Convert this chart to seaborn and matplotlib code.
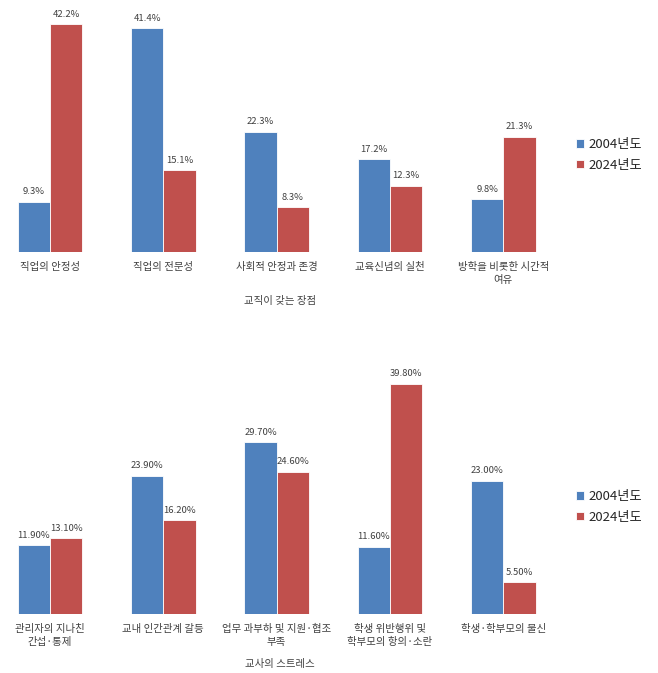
import pandas as pd
import matplotlib
matplotlib.use('Agg')
import matplotlib.pyplot as plt
import seaborn as sns

sns.set_style('white')
plt.rcParams['font.family'] = ['Noto Sans CJK KR', 'DejaVu Sans']

# data for the two charts
years = ['2004년도', '2024년도']

merit_cats = ['직업의 안정성', '직업의 전문성', '사회적 안정과 존경', '교육신념의 실천',
              '방학을 비롯한 시간적\n여유']
merit_2004 = [9.3, 41.4, 22.3, 17.2, 9.8]
merit_2024 = [42.2, 15.1, 8.3, 12.3, 21.3]

stress_cats = ['관리자의 지나친\n간섭·통제', '교내 인간관계 갈등', '업무 과부하 및 지원·협조\n부족',
               '학생 위반행위 및\n학부모의 항의·소란', '학생·학부모의 불신']
stress_2004 = [11.9, 23.9, 29.7, 11.6, 23.0]
stress_2024 = [13.1, 16.2, 24.6, 39.8, 5.5]

palette = ['#4F81BD', '#C0504D']


def make_df(cats, v1, v2):
    rows = []
    for c, a, b in zip(cats, v1, v2):
        rows.append({'category': c, 'year': years[0], 'value': a})
        rows.append({'category': c, 'year': years[1], 'value': b})
    return pd.DataFrame(rows)


fig = plt.figure(figsize=(6.58, 6.73), dpi=100)

W, H = 658, 673
panels = [
    # df, ylim, baseline px, top px, fmt, xlabel, legend center px
    (make_df(merit_cats, merit_2004, merit_2024), 45, 252, 9, '{:.1f}%', '교직이 갖는 장점', 155),
    (make_df(stress_cats, stress_2004, stress_2024), 42, 614, 371, '{:.2f}%', '교사의 스트레스', 507),
]

for df, ymax, base_px, top_px, fmt, xlabel, leg_px in panels:
    ax = fig.add_axes([0, 1 - base_px / H, 560 / W, (base_px - top_px) / H])
    sns.barplot(data=df, x='category', y='value', hue='year', palette=palette,
                saturation=1, width=0.57, edgecolor='white', linewidth=0.6, ax=ax)
    ax.set_xlim(-0.44, 4.5)
    ax.set_ylim(0, ymax)
    for cont in ax.containers:
        ax.bar_label(cont, labels=[fmt.format(v) for v in cont.datavalues],
                     padding=4, fontsize=6.8, color='#404040')
    sns.despine(ax=ax, left=True, bottom=True)
    ax.set_yticks([])
    ax.set_ylabel('')
    ax.tick_params(axis='x', length=0, pad=7, labelsize=7.5, labelcolor='#404040')
    for t in ax.get_xticklabels():
        t.set_linespacing(1.45)
    ax.set_xlabel(xlabel, fontsize=7.5, color='#404040', labelpad=8)
    handles, labels = ax.get_legend_handles_labels()
    ax.get_legend().remove()
    fig.legend(handles, labels, loc='center left',
               bbox_to_anchor=(568 / W, 1 - leg_px / H), frameon=False,
               fontsize=9.5, handlelength=0.6, handleheight=0.6,
               handletextpad=0.35, labelspacing=0.6, borderaxespad=0.2)

fig.savefig('out.png', dpi=100)
